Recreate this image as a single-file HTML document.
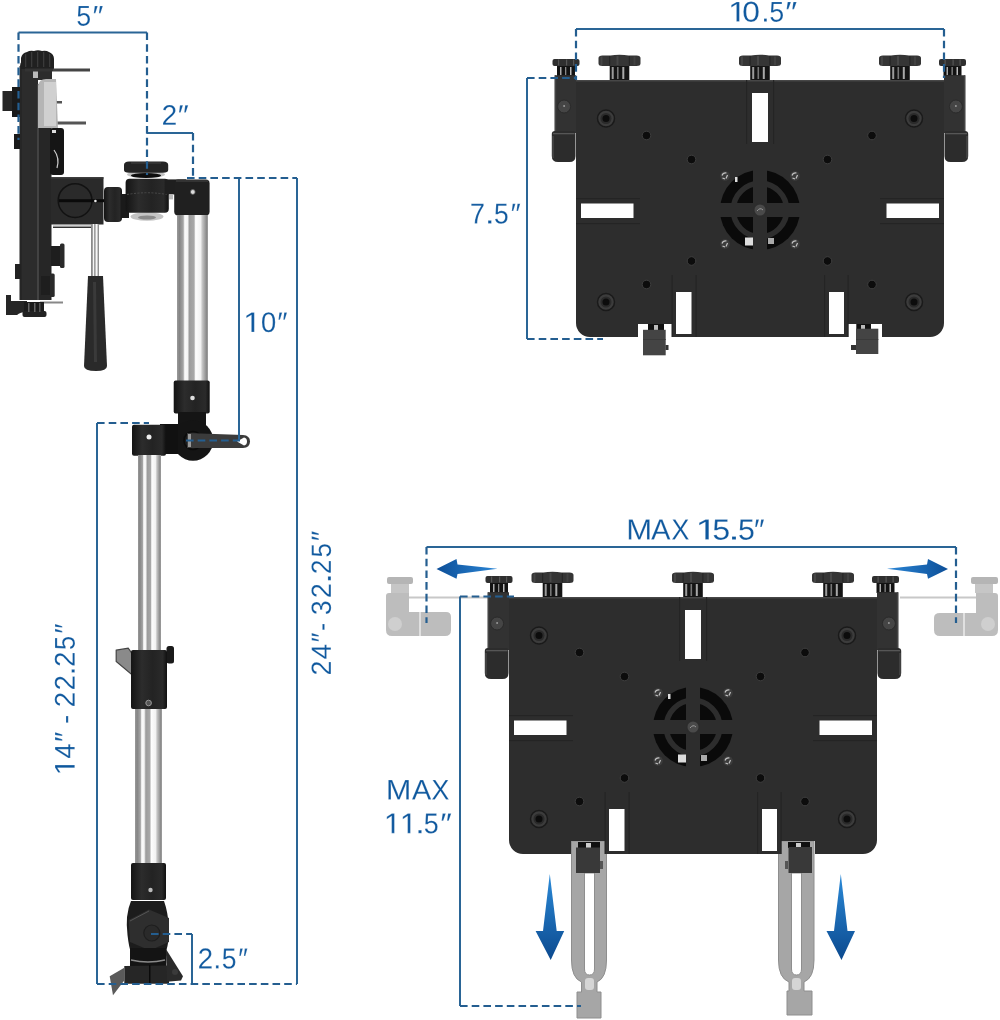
<!DOCTYPE html>
<html><head><meta charset="utf-8">
<style>
html,body{margin:0;padding:0;background:#fff;width:1000px;height:1020px;overflow:hidden}
svg{display:block}
text{font-family:"Liberation Sans",sans-serif;fill:#0c559c;stroke:#fff;stroke-width:0.35px}
</style></head><body>
<svg width="1000" height="1020" viewBox="0 0 1000 1020">
<defs>
<linearGradient id="silver" x1="0" x2="1" y1="0" y2="0">
<stop offset="0" stop-color="#9a9a9a"/><stop offset="0.08" stop-color="#858585"/><stop offset="0.2" stop-color="#a5a5a5"/><stop offset="0.25" stop-color="#fbfbfb"/><stop offset="0.34" stop-color="#f4f4f4"/><stop offset="0.4" stop-color="#9c9c9c"/><stop offset="0.55" stop-color="#a8a8a8"/><stop offset="0.6" stop-color="#fdfdfd"/><stop offset="0.76" stop-color="#f2f2f2"/><stop offset="0.82" stop-color="#c4c4c4"/><stop offset="0.95" stop-color="#8a8a8a"/><stop offset="1" stop-color="#a0a0a0"/>
</linearGradient>
<linearGradient id="blackcyl" x1="0" x2="1" y1="0" y2="0">
<stop offset="0" stop-color="#141414"/><stop offset="0.3" stop-color="#2c2c2c"/><stop offset="0.6" stop-color="#232323"/><stop offset="0.88" stop-color="#2a2a2a"/><stop offset="1" stop-color="#101010"/>
</linearGradient>
<linearGradient id="arrowH" x1="0" x2="1" y1="0" y2="0">
<stop offset="0" stop-color="#0d4f98"/><stop offset="1" stop-color="#2b86d6"/>
</linearGradient>
<linearGradient id="arrowH2" x1="1" x2="0" y1="0" y2="0">
<stop offset="0" stop-color="#0d4f98"/><stop offset="1" stop-color="#2b86d6"/>
</linearGradient>
<linearGradient id="arrowV" x1="0" x2="0" y1="0" y2="1">
<stop offset="0" stop-color="#2b8ad8"/><stop offset="1" stop-color="#0c4a8f"/>
</linearGradient>
<g id="knobBig">
<path d="M-21,-22 Q-21,-24.5 -17,-24.5 L-9,-24.5 Q-5,-25.3 0,-25.3 Q5,-25.3 9,-24.5 L17,-24.5 Q21,-24.5 21,-22 L21,-16.5 Q21,-14 17,-14 L-17,-14 Q-21,-14 -21,-16.5 Z" fill="#353535"/>
<rect x="-19" y="-23.5" width="2" height="8.5" fill="#454545"/><rect x="-3" y="-24" width="2" height="9" fill="#474747"/><rect x="14" y="-23.5" width="2" height="8.5" fill="#414141"/>
<rect x="-10.5" y="-24" width="1.2" height="9.5" fill="#262626"/><rect x="9.3" y="-24" width="1.2" height="9.5" fill="#262626"/>
<rect x="-9.8" y="-14" width="19.6" height="14" fill="#141414"/>
<rect x="-7.8" y="-13" width="2" height="12" fill="#9a9a9a"/><rect x="-2.5" y="-13" width="1.6" height="12" fill="#777"/><rect x="2.8" y="-13" width="2" height="12" fill="#a8a8a8"/>
</g>
<g id="knobSmall">
<rect x="-13.5" y="-17" width="27" height="7" rx="2" fill="#2f2f2f"/>
<rect x="-8" y="-16.5" width="1.2" height="6" fill="#555"/><rect x="0" y="-16.5" width="1.2" height="6" fill="#555"/><rect x="7" y="-16.5" width="1.2" height="6" fill="#555"/>
<rect x="-9" y="-10" width="18" height="10" fill="#121212"/>
<rect x="-6" y="-9" width="1.5" height="8" fill="#aaa"/><rect x="-1" y="-9" width="1.3" height="8" fill="#888"/><rect x="4" y="-9" width="1.5" height="8" fill="#bbb"/>
</g>
<g id="sideClamp">
<path d="M-21.3,-4.7 H0 V53 H-21.3 Z" fill="#323232"/>
<rect x="-21.3" y="-4.7" width="1.5" height="57" fill="#444"/>
<circle cx="-11.9" cy="26.5" r="6.5" fill="#454545" stroke="#2a2a2a" stroke-width="1"/><circle cx="-11.9" cy="26" r="1" fill="#999"/>
<path d="M-24.2,54 Q-24.2,51 -21,51 L-3,51 Q-0.5,51 -0.5,54 L-0.5,76 Q-0.5,82 -6.5,82 L-18,82 Q-24.2,82 -24.2,76 Z" fill="#2c2c2c"/>
<rect x="-23" y="53" width="21.5" height="1.3" fill="#565656"/>
<rect x="-23.5" y="56" width="1" height="22" fill="#555"/>
</g>
<g id="plate">
<path d="M0,1 Q0,0 1,0 H367 Q368,0 368,1 V243 A14,14 0 0 1 354,257 H306 V244 H272 V257 H96 V244 H62 V257 H14 A14,14 0 0 1 0,243 Z" fill="#2d2d2d"/>
<rect x="0" y="0" width="368" height="1.5" fill="#474747"/>
<g fill="#242424"><rect x="95.5" y="195" width="1.2" height="62"/><rect x="119.5" y="195" width="1.2" height="62"/><rect x="248" y="195" width="1.2" height="62"/><rect x="271.5" y="195" width="1.2" height="62"/>
<rect x="0" y="143" width="64" height="1.2"/><rect x="304" y="143" width="64" height="1.2"/><rect x="0" y="118" width="64" height="1.2"/><rect x="304" y="118" width="64" height="1.2"/><rect x="170" y="0" width="1.2" height="64"/><rect x="197" y="0" width="1.2" height="64"/></g>
<rect x="176" y="13" width="16" height="49" fill="#fff"/>
<rect x="5" y="123.5" width="52.5" height="14.5" fill="#fff"/>
<rect x="310.5" y="123.5" width="52.5" height="14.5" fill="#fff"/>
<rect x="100" y="212" width="15.5" height="42" fill="#fff"/>
<rect x="253" y="212" width="15" height="42" fill="#fff"/>
<g fill="#3c3c3c" stroke="#1a1a1a" stroke-width="1.5">
<circle cx="30" cy="38.5" r="8.5"/><circle cx="338" cy="38.5" r="8.5"/><circle cx="30" cy="222" r="8.5"/><circle cx="338" cy="222" r="8.5"/>
</g>
<g fill="#2a2a2a"><circle cx="30" cy="38.5" r="5.5"/><circle cx="338" cy="38.5" r="5.5"/><circle cx="30" cy="222" r="5.5"/><circle cx="338" cy="222" r="5.5"/></g>
<g fill="#0c0c0c">
<circle cx="30" cy="38.5" r="3.5"/><circle cx="338" cy="38.5" r="3.5"/><circle cx="30" cy="222" r="3.5"/><circle cx="338" cy="222" r="3.5"/>
<g stroke="#3e3e3e" stroke-width="1"><circle cx="70.5" cy="55.5" r="4.3"/><circle cx="296" cy="55.5" r="4.3"/><circle cx="115.5" cy="79.5" r="4.3"/><circle cx="251.5" cy="79.5" r="4.3"/>
<circle cx="115.5" cy="181" r="4.3"/><circle cx="251.5" cy="181" r="4.3"/><circle cx="70.5" cy="204.5" r="4.3"/><circle cx="296" cy="204.5" r="4.3"/></g>
</g>
<g transform="translate(184,130)">
<circle r="40" fill="#0a0a0a"/>
<circle r="26.7" fill="none" stroke="#2d2d2d" stroke-width="5.6"/>
<rect x="-7" y="-41" width="14" height="82" fill="#2d2d2d"/>
<rect x="-41" y="-7" width="82" height="14" fill="#2d2d2d"/>
<circle r="7" fill="#2d2d2d"/>
<circle r="5.5" fill="#4a4a4a"/><path d="M-3,1 Q0,-3 3,0" stroke="#999" stroke-width="1" fill="none"/>
<g fill="#3c3c3c"><circle cx="-35" cy="-34" r="4.8"/><circle cx="35" cy="-34" r="4.8"/><circle cx="-35" cy="34" r="4.8"/><circle cx="35" cy="34" r="4.8"/></g>
<g stroke="#c4c4c4" stroke-width="1.2" fill="none"><path d="M-38,-34.5 Q-37,-37.5 -33.5,-37"/><path d="M-32.5,-35 L-34,-31.5"/><path d="M-37.5,-32 L-35,-31"/><path d="M32,-34.5 Q33,-37.5 36.5,-37"/><path d="M37.5,-35 L36,-31.5"/><path d="M32.5,-32 L35,-31"/><path d="M-38,33.5 Q-37,30.5 -33.5,31"/><path d="M-32.5,33 L-34,36.5"/><path d="M-37.5,36 L-35,37"/><path d="M32,33.5 Q33,30.5 36.5,31"/><path d="M37.5,33 L36,36.5"/><path d="M32.5,36 L35,37"/></g>
<g fill="#ddd"><rect x="-25" y="-33" width="2.5" height="5"/><rect x="-15" y="27.5" width="8" height="8"/><rect x="8" y="28" width="6" height="6" fill="#aaa"/></g>
</g>
<use href="#knobBig" x="43.5" y="0"/>
<use href="#knobBig" x="184" y="0"/>
<use href="#knobBig" x="324" y="0"/>
<use href="#knobSmall" x="-10" y="-4"/>
<use href="#knobSmall" x="376.5" y="-4"/>
<use href="#sideClamp"/>
<use href="#sideClamp" transform="translate(368,0) scale(-1,1)"/>
</g>
</defs>

<!-- ===== Top right plate ===== -->
<g transform="translate(576,80)">
<use href="#plate"/>
<rect x="72" y="244" width="16" height="6" fill="#111"/><rect x="78" y="245" width="4" height="5" fill="#bbb"/>
<rect x="67" y="249.8" width="22.7" height="25.5" fill="#444"/><rect x="67" y="259" width="22.7" height="1" fill="#3a3a3a"/>
<rect x="89.5" y="265" width="3" height="5" fill="#333"/>
<rect x="280.3" y="244" width="14.7" height="5" fill="#111"/><rect x="285" y="245" width="4" height="4" fill="#bbb"/>
<rect x="280" y="248.7" width="22.3" height="25.3" fill="#444"/><rect x="280" y="259" width="22.3" height="1" fill="#3a3a3a"/>
<rect x="275" y="265" width="5" height="5" fill="#333"/>
</g>

<!-- ===== Bottom right plate ===== -->
<!-- ghost clamps & rods -->
<rect x="409" y="596.5" width="100" height="2" fill="#c8c8c8"/>
<rect x="900" y="596.5" width="76" height="2" fill="#c8c8c8"/>
<g fill="#bdbdbd">
<rect x="387" y="577" width="26" height="7" rx="2" fill="#b5b5b5"/>
<rect x="391" y="584" width="18" height="9" fill="#c6c6c6"/>
<path d="M386,596 Q386,593 389,593 L409,593 L409,612 L446,612 Q451,612 451,617 L451,630 Q451,636 445,636 L392,636 Q386,636 386,630 Z"/>
<circle cx="395" cy="624" r="7" fill="#cfcfcf"/>
<rect x="419" y="612" width="2" height="24" fill="#e0e0e0"/>
<rect x="971" y="577" width="27" height="7" rx="2" fill="#b5b5b5"/>
<rect x="975" y="584" width="18" height="9" fill="#c6c6c6"/>
<path d="M998,596 Q998,593 995,593 L976,593 L976,613 L940,613 Q934,613 934,618 L934,630 Q934,636 940,636 L992,636 Q998,636 998,630 Z"/>
<circle cx="988" cy="624" r="7" fill="#cfcfcf"/>
<rect x="963" y="613" width="2" height="23" fill="#e0e0e0"/>
</g>
<!-- forks -->
<g fill="#a6a6a6" stroke="#8e8e8e" stroke-width="1">
<path d="M571.5,841 H606.5 V960 Q606.5,978 597,982 V992 H601 V1018 H577 V992 H581.5 V982 Q571.5,978 571.5,960 Z M584.5,873 V969 Q584.5,975 589.5,975 Q594.5,975 594.5,969 V873 Z" fill-rule="evenodd"/>
<path d="M778.5,841 H814 V960 Q814,978 804,982 V991 H812 V1015 H787 V991 H789 V982 Q778.5,978 778.5,960 Z M791.5,873 V969 Q791.5,975 796.5,975 Q801.5,975 801.5,969 V873 Z" fill-rule="evenodd"/>
</g>
<rect x="585" y="978" width="9" height="12" rx="3" fill="#d5d5d5"/>
<rect x="792" y="978" width="9" height="12" rx="3" fill="#d5d5d5"/>
<rect x="578" y="842" width="22" height="6" fill="#111"/><rect x="586" y="843" width="5" height="5" fill="#ccc"/>
<rect x="576" y="847.5" width="24" height="25.5" fill="#393939"/><rect x="600" y="861" width="3" height="8" fill="#555"/>
<rect x="788" y="842" width="22" height="6" fill="#111"/><rect x="796" y="843" width="5" height="5" fill="#ccc"/>
<rect x="788.5" y="847" width="23.5" height="26" fill="#393939"/><rect x="785" y="861" width="3" height="8" fill="#555"/>
<g transform="translate(509,597)">
<use href="#plate"/>
</g>
<!-- arrows -->
<path d="M436.5,569 L456.5,559 L457.5,564.5 L497.5,568.8 L457.5,574 L456.5,578.8 Z" fill="url(#arrowH)"/>
<path d="M948,569 L928,559 L927,564.5 L887,568.8 L927,574 L928,578.8 Z" fill="url(#arrowH2)"/>
<path d="M549.8,874 L556.7,931 L564.2,931 L550.7,960 L535.6,931 L543,931 Z" fill="url(#arrowV)"/>
<path d="M840.8,874 L847.5,931 L855,931 L841.5,960 L826.5,931 L834,931 Z" fill="url(#arrowV)"/>

<!-- ===== Left pole assembly ===== -->
<g id="pole">
<!-- tablet holder side view -->
<rect x="38" y="128" width="13.5" height="172" fill="#262626"/>
<path d="M20,66 Q20,60 26,60 L40,60 Q52,60 52,68 L52,80 L38,80 L38,300 L20,300 Z" fill="#2c2c2c"/>
<rect x="19.5" y="66" width="2.5" height="234" fill="#262626"/>
<rect x="37.2" y="84" width="1.6" height="216" fill="#4a4a4a"/>
<path d="M21,69 L21,58 Q22,53 27,52 Q30,50 34,51 Q38,49.5 42,51 Q46,50 49,52 Q54,54 54,59 L54,69 Z" fill="#202020"/>
<g fill="#3a3a3a"><rect x="25" y="54" width="1.3" height="13"/><rect x="31" y="52" width="1.3" height="15"/><rect x="37" y="52" width="1.3" height="15"/><rect x="43" y="52" width="1.3" height="15"/><rect x="49" y="54" width="1.3" height="13"/></g>
<rect x="25" y="68.5" width="28" height="3" fill="#333"/>
<rect x="33" y="71.5" width="5" height="6.5" fill="#bbb"/>
<rect x="53" y="68.5" width="37" height="3" fill="#444"/>
<rect x="57" y="121.5" width="29" height="3" fill="#555"/>
<rect x="55" y="101" width="7" height="2.5" fill="#555"/>
<path d="M38,86 Q39,79 46,79 L56,79 L58,128 L38,128 Z" fill="#b5b5b5"/>
<rect x="44" y="82" width="12" height="44" fill="#d0d0d0"/>
<rect x="50" y="128" width="14" height="47" rx="3" fill="#151515"/><rect x="52" y="130" width="4" height="3" fill="#ddd"/><path d="M54,150 Q60,158 57,168" stroke="#ccc" stroke-width="1.2" fill="none"/>
<rect x="2.5" y="91" width="10" height="20" fill="#262626"/><rect x="12" y="87" width="8" height="30" fill="#1a1a1a"/>
<rect x="14" y="134" width="6" height="15" fill="#1a1a1a"/>
<rect x="15" y="264" width="6" height="15" fill="#222"/>
<rect x="51" y="246" width="10" height="20" fill="#1e1e1e"/><rect x="60" y="243.5" width="4.5" height="24.5" rx="1.5" fill="#2a2a2a"/>
<rect x="41" y="276" width="10" height="19" fill="#1e1e1e"/><rect x="50" y="273.5" width="4.7" height="23.5" rx="1.5" fill="#2a2a2a"/>
<path d="M6,295 L11,295 L11,301 L27,301 L27,312 Q20,312 17,315 L6,315 Z" fill="#262626"/>
<rect x="40" y="301.5" width="23" height="2" fill="#888"/>
<rect x="24" y="302" width="20" height="11" fill="#1c1c1c"/>
<rect x="22.5" y="311" width="24" height="6" rx="2" fill="#222"/>
<rect x="28" y="303" width="1.5" height="9" fill="#666"/><rect x="34" y="303" width="1.5" height="9" fill="#666"/><rect x="39" y="303" width="1.5" height="9" fill="#555"/>
<!-- clamp block -->
<rect x="50.8" y="177.2" width="52.7" height="47.3" fill="#2a2a2a"/>
<rect x="50.8" y="177.2" width="52.7" height="1.5" fill="#3a3a3a"/>
<circle cx="75.1" cy="200.6" r="16.9" fill="#2a2a2a" stroke="#121212" stroke-width="1.5"/>
<rect x="59" y="199.2" width="46" height="3" fill="#0a0a0a"/>
<circle cx="95.4" cy="201" r="1.3" fill="#eee"/>
<rect x="53" y="225" width="40" height="1.6" fill="#cfcfcf"/><rect x="53" y="226.6" width="40" height="1.4" fill="#333"/>
<rect x="104" y="187" width="18" height="35" rx="4" fill="url(#blackcyl)"/>
<!-- handle -->
<rect x="91" y="224" width="8" height="54" fill="url(#silver)"/>
<path d="M88,276 L103,276 L107,366 Q107,371 96,371 Q84,371 84,366 Z" fill="#2a2a2a"/>
<path d="M93,282 L96,282 L97,362 L94,362 Z" fill="#3a3a3a"/>
<!-- swivel -->
<rect x="121" y="194" width="8" height="24" fill="#1a1a1a"/>
<ellipse cx="147" cy="216.5" rx="16.5" ry="4.3" fill="#c4c4c4"/>
<ellipse cx="147" cy="217.5" rx="9" ry="2" fill="#8a8a8a"/>
<rect x="125.6" y="178.8" width="43.2" height="34" rx="4" fill="url(#blackcyl)"/>
<path d="M127,194.5 Q147,191 167,194.5" stroke="#4a4a4a" stroke-width="1" fill="none" stroke-dasharray="2,1.5"/>
<ellipse cx="146" cy="174.5" rx="19" ry="3.5" fill="#c2c2c2"/>
<ellipse cx="146" cy="175.5" rx="15" ry="2.6" fill="#0e0e0e"/>
<path d="M124,165 Q124,161.4 129,161.4 L163,161.4 Q168.2,161.4 168.2,165 L168.2,170 Q168.2,172.8 163,172.8 L129,172.8 Q124,172.8 124,170 Z" fill="#242424"/>
<rect x="131" y="162" width="30" height="2" fill="#333"/>
<!-- arm head -->
<path d="M165,179.4 L186,179.4 L186,194.4 L165,194.4 Z" fill="#1f1f1f"/>
<rect x="174.2" y="179.4" width="35.4" height="36" rx="4" fill="#202020"/>
<rect x="176" y="180" width="32" height="2" fill="#333"/>
<circle cx="192.8" cy="192" r="2.4" fill="#ddd" stroke="#555" stroke-width="0.8"/>
<rect x="169" y="194.4" width="4" height="5" fill="#bbb"/>
<!-- pole 1 -->
<rect x="177" y="215" width="31" height="166" fill="url(#silver)"/>
<rect x="173.7" y="380.5" width="36" height="33" rx="2" fill="url(#blackcyl)"/>
<circle cx="192.5" cy="398" r="2.3" fill="#ddd"/>
<rect x="178" y="412" width="28" height="20" fill="#151515"/>
<circle cx="193" cy="440.5" r="20.2" fill="#141414"/>
<circle cx="193" cy="440.5" r="9" fill="#1c1c1c" stroke="#0a0a0a" stroke-width="1.5"/>
<path d="M187,433 L243,435 Q250,435.5 250,441.5 Q250,447.5 243,448 L187,448 Z" fill="#3b3b3b"/>
<path d="M237,441.5 L244,437.5 Q247,438 247,441.5 Q247,445 244,445.5 Z" fill="#fff"/>
<rect x="188" y="434" width="3" height="13" fill="#999"/>
<rect x="160" y="424" width="18" height="30" fill="#111"/>
<rect x="132" y="424.7" width="34" height="31" rx="2" fill="url(#blackcyl)"/>
<circle cx="149" cy="437" r="2.5" fill="#eee"/>
<!-- pole 2 -->
<rect x="138" y="455" width="23" height="196" fill="url(#silver)"/>
<path d="M116.2,650.2 L128.2,648.2 L141.8,667 L137,675.8 L131.4,674.2 L116.2,661.4 Z" fill="#8a8a8a" stroke="#444" stroke-width="1.2"/><circle cx="134" cy="669" r="3" fill="#333"/>
<rect x="166.5" y="646" width="7.5" height="17.5" rx="2.5" fill="#1a1a1a"/>
<rect x="131" y="650" width="36" height="59" rx="2" fill="url(#blackcyl)"/>
<circle cx="148.6" cy="703" r="2.8" fill="#555" stroke="#999" stroke-width="1"/>
<!-- pole 3 -->
<rect x="135" y="709" width="27" height="158" fill="url(#silver)"/>
<rect x="131" y="863" width="35" height="37" rx="2" fill="url(#blackcyl)"/>
<circle cx="150.5" cy="890" r="2.2" fill="#bbb"/>
<path d="M131,901 Q125,915 127.5,935 Q129,948 131,952 L166,952 Q169.5,940 169,928 Q168,912 164,901 Z" fill="#1c1c1c"/>
<path d="M128.6,920 L149,909.4 L169,918 L169,942 L150,950.4 L130,942 Z" fill="#2e2e2e"/>
<path d="M130,921 L149,911" stroke="#555" stroke-width="1" fill="none"/>
<circle cx="151.8" cy="933" r="8" fill="#2a2a2a" stroke="#1e1e1e" stroke-width="1.2"/>
<rect x="130" y="948" width="36" height="18" fill="#141414"/>
<path d="M131,960 Q148,964 165,960" stroke="#8a8a8a" stroke-width="1.3" fill="none"/>
<path d="M124.3,966 L169,965.5 L169,983.8 L124.3,983.8 Z" fill="#262626"/>
<rect x="149" y="965" width="1.5" height="19" fill="#0a0a0a"/>
<path d="M165.8,948.8 L183,976.3 L181,980.6 L167,981.7 Z" fill="#2a2a2a"/>
<circle cx="175" cy="972" r="3" fill="#3a3a3a"/>
<path d="M109.7,976.3 L124.3,967.7 L124.3,980.6 L113,995.2 Z" fill="#5a5a5a"/>
</g>

<!-- ===== Dimension lines ===== -->
<g stroke="#2a6596" stroke-width="2" fill="none">
<path d="M576,29 H944"/>
<path d="M527,78 V339"/>
<path d="M426.5,547 H956"/>
<path d="M460,596.5 V1006"/>
<path d="M18.5,32.5 H147"/><path d="M147,133 H193"/>
<path d="M239,178 V440.5"/><path d="M297,178 V984"/>
<path d="M97,423 V984"/><path d="M192,934 V984"/>
</g>
<g stroke="#245e90" stroke-width="2.2" fill="none" stroke-dasharray="7.6,4.1">
<path d="M576,29 V80"/><path d="M944,29 V78"/>
<path d="M527,78 H577"/><path d="M527,339 H603"/>
<path d="M426.5,547 V623"/><path d="M956,547 V623"/>
<path d="M460,596.5 H514"/><path d="M460,1006 H581"/>
<path d="M18.5,32.5 V140"/><path d="M147,32.5 V175"/>
<path d="M193,133 V178"/><path d="M187,178 H297"/>
<path d="M186,440.5 H240"/>
<path d="M97,423 H149"/><path d="M97,984 H297"/>
<path d="M151,934 H192"/>
</g>

<!-- ===== Labels ===== -->
<defs>
<path vector-effect="non-scaling-stroke" id="g0" d="M1059 705Q1059 352 934.5 166.0Q810 -20 567 -20Q324 -20 202.0 165.0Q80 350 80 705Q80 1068 198.5 1249.0Q317 1430 573 1430Q822 1430 940.5 1247.0Q1059 1064 1059 705ZM876 705Q876 1010 805.5 1147.0Q735 1284 573 1284Q407 1284 334.5 1149.0Q262 1014 262 705Q262 405 335.5 266.0Q409 127 569 127Q728 127 802.0 269.0Q876 411 876 705Z"/>
<path vector-effect="non-scaling-stroke" id="g1" d="M515 0V1237L197 1010V1180L530 1409H696V0Z"/>
<path vector-effect="non-scaling-stroke" id="g2" d="M103 0V127Q154 244 227.5 333.5Q301 423 382.0 495.5Q463 568 542.5 630.0Q622 692 686.0 754.0Q750 816 789.5 884.0Q829 952 829 1038Q829 1154 761.0 1218.0Q693 1282 572 1282Q457 1282 382.5 1219.5Q308 1157 295 1044L111 1061Q131 1230 254.5 1330.0Q378 1430 572 1430Q785 1430 899.5 1329.5Q1014 1229 1014 1044Q1014 962 976.5 881.0Q939 800 865.0 719.0Q791 638 582 468Q467 374 399.0 298.5Q331 223 301 153H1036V0Z"/>
<path vector-effect="non-scaling-stroke" id="g3" d="M1049 389Q1049 194 925.0 87.0Q801 -20 571 -20Q357 -20 229.5 76.5Q102 173 78 362L264 379Q300 129 571 129Q707 129 784.5 196.0Q862 263 862 395Q862 510 773.5 574.5Q685 639 518 639H416V795H514Q662 795 743.5 859.5Q825 924 825 1038Q825 1151 758.5 1216.5Q692 1282 561 1282Q442 1282 368.5 1221.0Q295 1160 283 1049L102 1063Q122 1236 245.5 1333.0Q369 1430 563 1430Q775 1430 892.5 1331.5Q1010 1233 1010 1057Q1010 922 934.5 837.5Q859 753 715 723V719Q873 702 961.0 613.0Q1049 524 1049 389Z"/>
<path vector-effect="non-scaling-stroke" id="g4" d="M881 319V0H711V319H47V459L692 1409H881V461H1079V319ZM711 1206Q709 1200 683.0 1153.0Q657 1106 644 1087L283 555L229 481L213 461H711Z"/>
<path vector-effect="non-scaling-stroke" id="g5" d="M1053 459Q1053 236 920.5 108.0Q788 -20 553 -20Q356 -20 235.0 66.0Q114 152 82 315L264 336Q321 127 557 127Q702 127 784.0 214.5Q866 302 866 455Q866 588 783.5 670.0Q701 752 561 752Q488 752 425.0 729.0Q362 706 299 651H123L170 1409H971V1256H334L307 809Q424 899 598 899Q806 899 929.5 777.0Q1053 655 1053 459Z"/>
<path vector-effect="non-scaling-stroke" id="g7" d="M1036 1263Q820 933 731.0 746.0Q642 559 597.5 377.0Q553 195 553 0H365Q365 270 479.5 568.5Q594 867 862 1256H105V1409H1036Z"/>
<path vector-effect="non-scaling-stroke" id="gM" d="M1366 0V940Q1366 1096 1375 1240Q1326 1061 1287 960L923 0H789L420 960L364 1130L331 1240L334 1129L338 940V0H168V1409H419L794 432Q814 373 832.5 305.5Q851 238 857 208Q865 248 890.5 329.5Q916 411 925 432L1293 1409H1538V0Z"/>
<path vector-effect="non-scaling-stroke" id="gA" d="M1167 0 1006 412H364L202 0H4L579 1409H796L1362 0ZM685 1265 676 1237Q651 1154 602 1024L422 561H949L768 1026Q740 1095 712 1182Z"/>
<path vector-effect="non-scaling-stroke" id="gX" d="M1112 0 689 616 257 0H46L582 732L87 1409H298L690 856L1071 1409H1282L800 739L1323 0Z"/>
<path vector-effect="non-scaling-stroke" id="gdot" d="M187 0V219H382V0Z"/>
<path vector-effect="non-scaling-stroke" id="ghy" d="M91 464V624H591V464Z"/>
<path vector-effect="non-scaling-stroke" id="gq" d="M85 890 149 1409H345L187 890ZM427 890 491 1409H687L529 890Z"/>
</defs>
<g fill="#0d579d" stroke="#fff" stroke-width="0.25">
<use href="#g1" transform="matrix(0.01623,0,0,-0.01398,728.1022,21.6)"/>
<use href="#g0" transform="matrix(0.01563,0,0,-0.01398,742.14974,21.6)"/>
<use href="#gdot" transform="matrix(0.01436,0,0,-0.01398,761.31487,21.6)"/>
<use href="#g5" transform="matrix(0.01298,0,0,-0.01398,769.33594,21.6)"/>
<use href="#gq" transform="matrix(0.01661,0,0,-0.01398,785.18804,21.6)"/>
<use href="#gM" transform="matrix(0.01518,0,0,-0.01419,626.24934,539.6)"/>
<use href="#gA" transform="matrix(0.01414,0,0,-0.01419,651.14345,539.6)"/>
<use href="#gX" transform="matrix(0.01316,0,0,-0.01419,671.39483,539.6)"/>
<use href="#g1" transform="matrix(0.01924,0,0,-0.01419,695.41002,539.6)"/>
<use href="#g5" transform="matrix(0.01565,0,0,-0.01419,712.31637,539.6)"/>
<use href="#gdot" transform="matrix(0.02051,0,0,-0.01419,728.1641,539.6)"/>
<use href="#g5" transform="matrix(0.01483,0,0,-0.01419,737.98393,539.6)"/>
<use href="#gq" transform="matrix(0.01462,0,0,-0.01419,753.95748,539.6)"/>
<use href="#gM" transform="matrix(0.01489,0,0,-0.01391,385.89839,799.6)"/>
<use href="#gA" transform="matrix(0.01414,0,0,-0.01391,411.94345,799.6)"/>
<use href="#gX" transform="matrix(0.01316,0,0,-0.01391,431.39483,799.6)"/>
<use href="#g1" transform="matrix(0.01523,0,0,-0.01391,383.7996,833.2)"/>
<use href="#g1" transform="matrix(0.01523,0,0,-0.01391,399.7996,833.2)"/>
<use href="#gdot" transform="matrix(0.01641,0,0,-0.01391,415.33128,833.2)"/>
<use href="#g5" transform="matrix(0.01318,0,0,-0.01391,423.71905,833.2)"/>
<use href="#gq" transform="matrix(0.01595,0,0,-0.01391,440.24452,833.2)"/>
<use href="#g7" transform="matrix(0.01321,0,0,-0.01405,469.91278,223.5)"/>
<use href="#gdot" transform="matrix(0.01692,0,0,-0.01405,484.93538,223.5)"/>
<use href="#g5" transform="matrix(0.01298,0,0,-0.01405,493.93594,223.5)"/>
<use href="#gq" transform="matrix(0.01395,0,0,-0.01405,510.61395,223.5)"/>
<use href="#g5" transform="matrix(0.01298,0,0,-0.01398,76.33594,25.6)"/>
<use href="#gq" transform="matrix(0.01495,0,0,-0.01398,92.52924,25.6)"/>
<use href="#g2" transform="matrix(0.01372,0,0,-0.01384,161.58692,124.8)"/>
<use href="#gq" transform="matrix(0.01528,0,0,-0.01384,177.701,124.8)"/>
<use href="#g1" transform="matrix(0.01603,0,0,-0.01384,243.14168,332)"/>
<use href="#g0" transform="matrix(0.01348,0,0,-0.01384,260.92135,332)"/>
<use href="#gq" transform="matrix(0.01412,0,0,-0.01384,277.29983,332)"/>
<use href="#g2" transform="matrix(0.0135,0,0,-0.01405,197.709,968.4)"/>
<use href="#gdot" transform="matrix(0.01385,0,0,-0.01405,213.31077,968.4)"/>
<use href="#g5" transform="matrix(0.01298,0,0,-0.01405,221.73594,968.4)"/>
<use href="#gq" transform="matrix(0.01346,0,0,-0.01405,238.15631,968.4)"/>
<use href="#g2" transform="matrix(0,-0.01297,-0.01363,0,330.9,675.4358)"/>
<use href="#g4" transform="matrix(0,-0.01366,-0.01363,0,330.9,659.44215)"/>
<use href="#gq" transform="matrix(0,-0.01362,-0.01363,0,330.9,642.35781)"/>
<use href="#ghy" transform="matrix(0,-0.0116,-0.01363,0,330.9,630.8556)"/>
<use href="#g3" transform="matrix(0,-0.01287,-0.01363,0,330.9,615.10412)"/>
<use href="#g2" transform="matrix(0,-0.01308,-0.01363,0,330.9,598.14684)"/>
<use href="#gdot" transform="matrix(0,-0.02,-0.01363,0,330.9,584.04)"/>
<use href="#g2" transform="matrix(0,-0.01265,-0.01363,0,330.9,574.10268)"/>
<use href="#g5" transform="matrix(0,-0.01256,-0.01363,0,330.9,557.43028)"/>
<use href="#gq" transform="matrix(0,-0.01429,-0.01363,0,330.9,541.11429)"/>
<use href="#g1" transform="matrix(0,-0.01483,-0.01398,0,74.7,775.42144)"/>
<use href="#g4" transform="matrix(0,-0.01328,-0.01398,0,74.7,758.62393)"/>
<use href="#gq" transform="matrix(0,-0.01429,-0.01398,0,74.7,742.01429)"/>
<use href="#ghy" transform="matrix(0,-0.0134,-0.01398,0,74.7,723.9194)"/>
<use href="#g2" transform="matrix(0,-0.0135,-0.01398,0,74.7,707.291)"/>
<use href="#g2" transform="matrix(0,-0.0134,-0.01398,0,74.7,690.37996)"/>
<use href="#gdot" transform="matrix(0,-0.0159,-0.01398,0,74.7,675.47282)"/>
<use href="#g2" transform="matrix(0,-0.0134,-0.01398,0,74.7,666.87996)"/>
<use href="#g5" transform="matrix(0,-0.01246,-0.01398,0,74.7,650.02183)"/>
<use href="#gq" transform="matrix(0,-0.01429,-0.01398,0,74.7,633.71429)"/>
</g>
</svg>
</body></html>
